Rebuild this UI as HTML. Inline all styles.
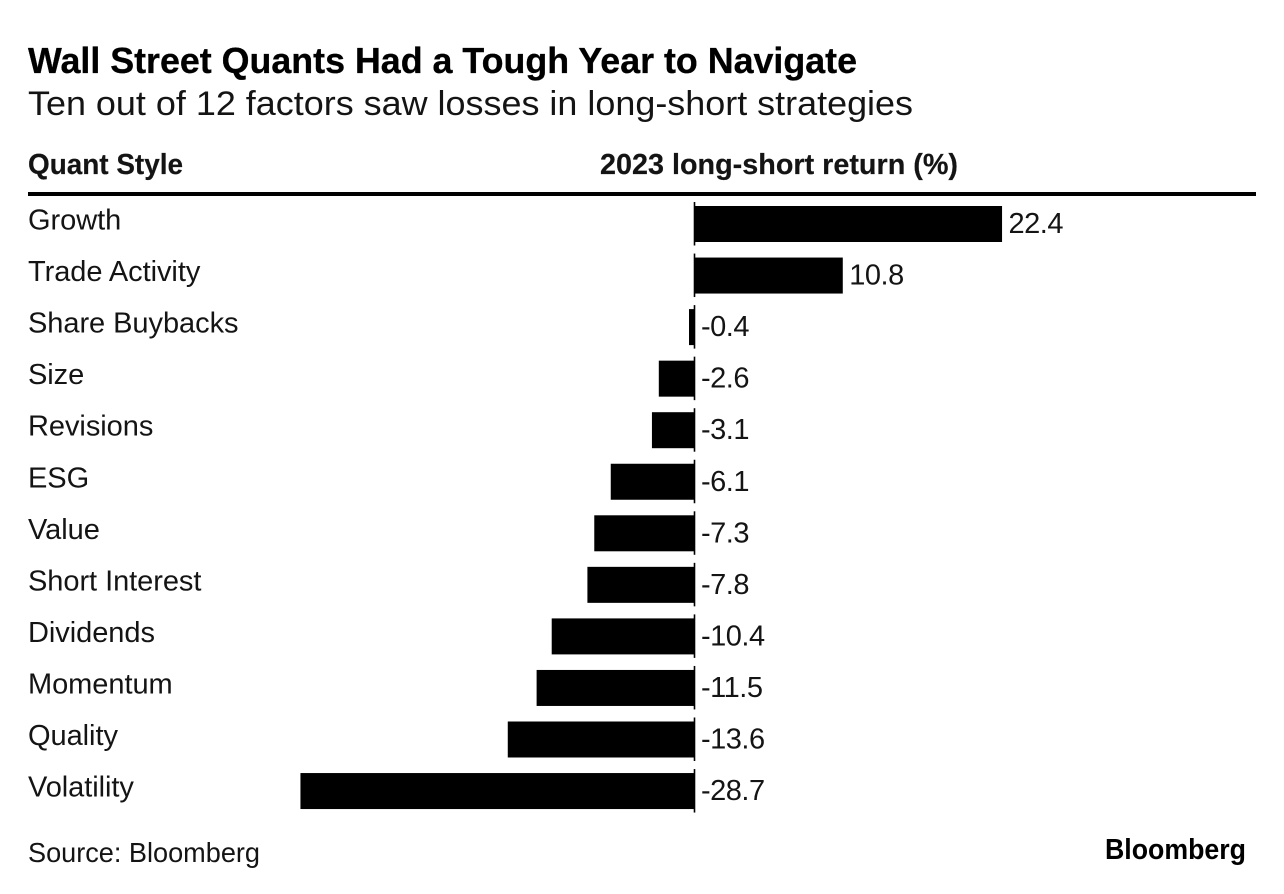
<!DOCTYPE html>
<html lang="en">
<head>
<meta charset="utf-8">
<title>Wall Street Quants Had a Tough Year to Navigate</title>
<style>
html,body{margin:0;padding:0;background:#fff;width:1284px;height:894px;overflow:hidden}
svg{display:block}
text{font-family:"Liberation Sans",sans-serif;fill:#141414}
.cat{font-size:29px;letter-spacing:-.05px}
.val{font-size:29px;letter-spacing:-.5px}
.hd{font-size:29px;font-weight:700;stroke:#141414;stroke-width:.2px}
</style>
</head>
<body>
<svg id="chart" width="1284" height="894" viewBox="0 0 1284 894" xmlns="http://www.w3.org/2000/svg">
  <text x="28" y="73" font-size="36" font-weight="700" textLength="829" lengthAdjust="spacingAndGlyphs" style="fill:#000;stroke:#000;stroke-width:.3px">Wall Street Quants Had a Tough Year to Navigate</text>
  <text x="28" y="115" font-size="34" textLength="885" lengthAdjust="spacingAndGlyphs">Ten out of 12 factors saw losses in long-short strategies</text>
  <text class="hd" x="28" y="174" textLength="155" lengthAdjust="spacingAndGlyphs">Quant Style</text>
  <text class="hd" x="600" y="174" textLength="358" lengthAdjust="spacingAndGlyphs">2023 long-short return (%)</text>
  <rect x="28" y="192" width="1228" height="4" fill="#000"></rect>
  <g id="rows"></g>
  <text x="28" y="862" font-size="28" textLength="232" lengthAdjust="spacingAndGlyphs">Source: Bloomberg</text>
  <text x="1105" y="859" font-size="29" font-weight="700" textLength="141" lengthAdjust="spacingAndGlyphs" style="fill:#000">Bloomberg</text>
</svg>
<script>
const categories = ["Growth","Trade Activity","Share Buybacks","Size","Revisions","ESG","Value","Short Interest","Dividends","Momentum","Quality","Volatility"];
const returns = [22.4,10.8,-0.4,-2.6,-3.1,-6.1,-7.3,-7.8,-10.4,-11.5,-13.6,-28.7];

const NS = 'http://www.w3.org/2000/svg';
const rows = document.getElementById('rows');
const xScale = v => 694.5 + v * 13.73;
const rowTop = i => 206 + i * 51.55;
const BAR_H = 36;

function make(tag, attrs, text) {
  const el = document.createElementNS(NS, tag);
  for (const k in attrs) el.setAttribute(k, attrs[k]);
  if (text !== undefined) el.textContent = text;
  rows.appendChild(el);
  return el;
}

categories.forEach((name, i) => {
  const v = returns[i];
  const top = rowTop(i);
  const x0 = xScale(Math.min(v, 0));
  const x1 = xScale(Math.max(v, 0));

  const label = make('text', {class: 'cat', x: 28, y: top + 23.5}, name);
  
  

  const bar = make('rect', {x: x0, y: top, width: x1 - x0, height: BAR_H, fill: '#000'});
  
  

  const axis = make('line', {x1: 694.5, x2: 694.5, y1: top - 4, y2: top + 39.5, stroke: '#000', 'stroke-width': 1.6});
  
  

  const valueX = v >= 0 ? x1 + 6.5 : 701;
  const value = make('text', {class: 'val', x: valueX, y: top + 27}, v.toFixed(1));
  
  
});
</script>
</body>
</html>
